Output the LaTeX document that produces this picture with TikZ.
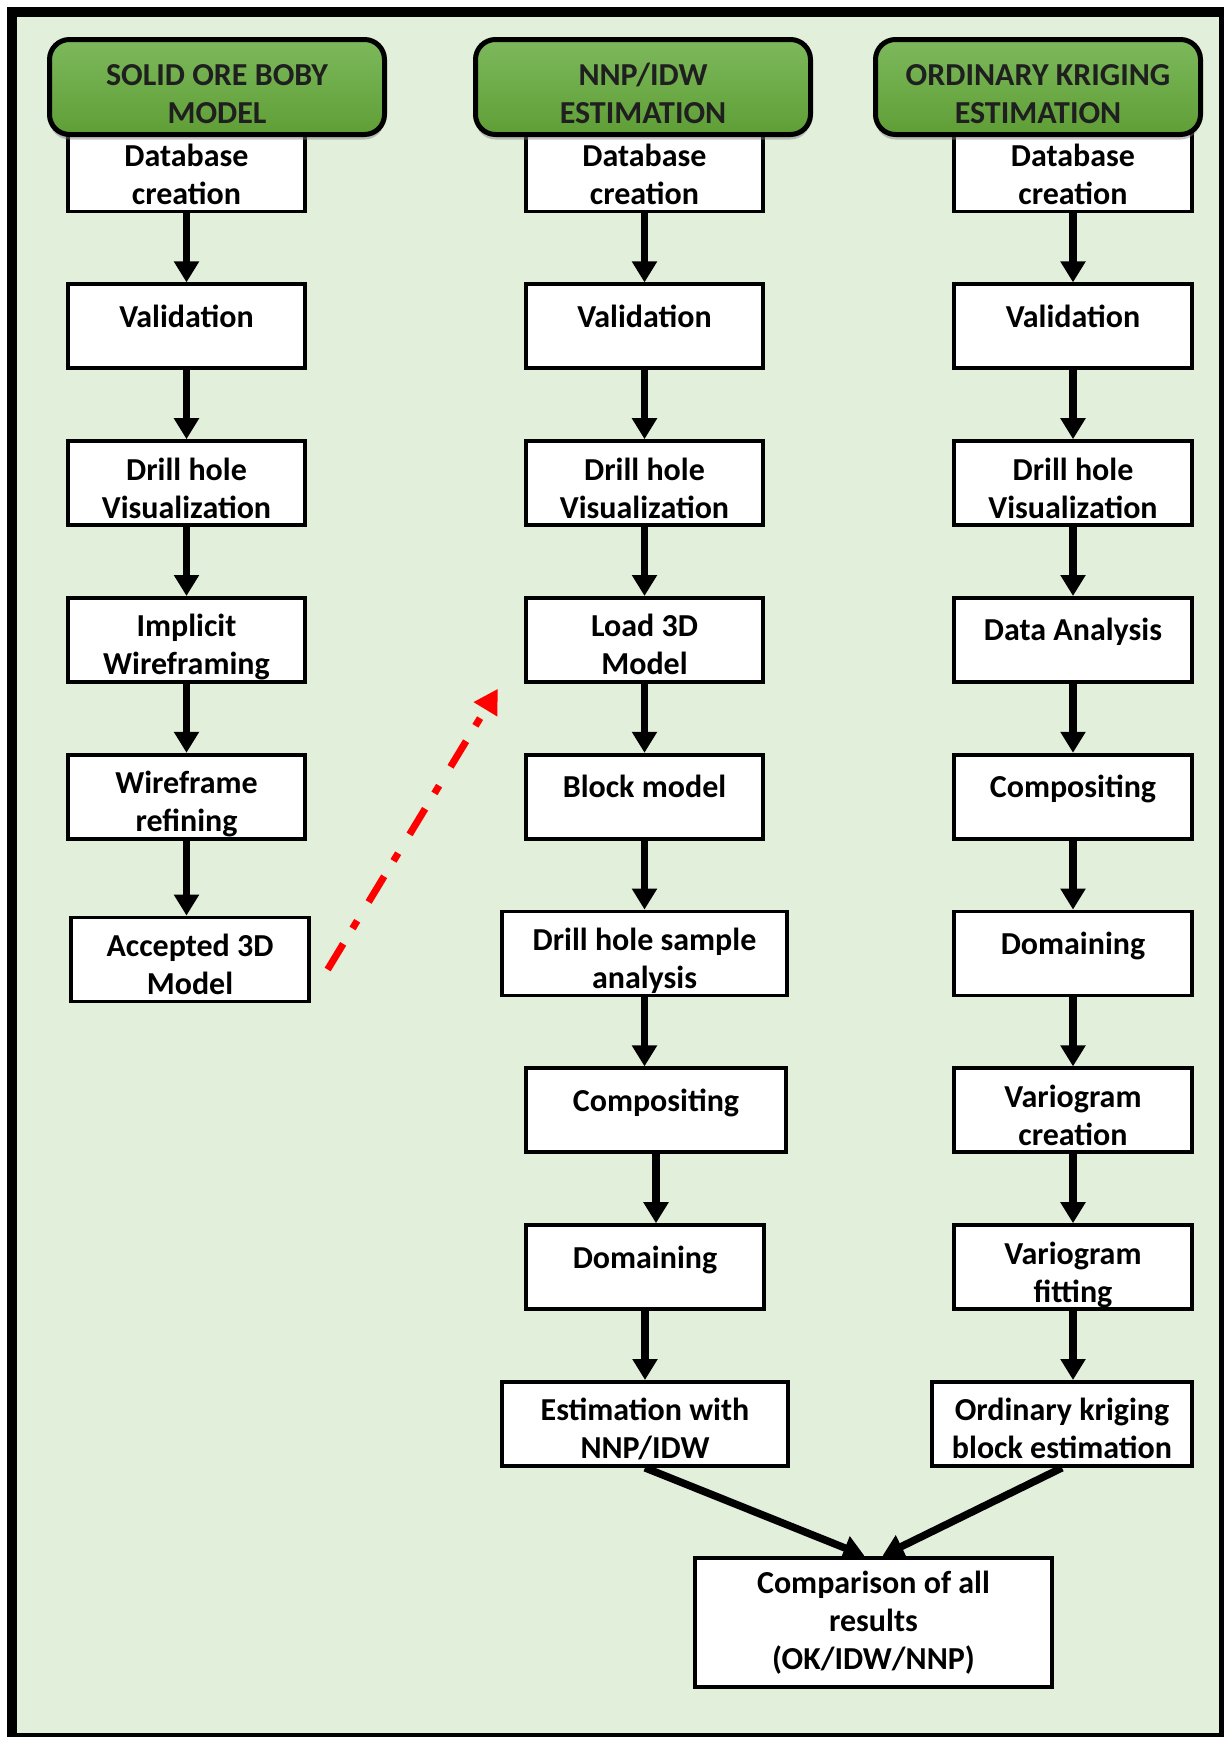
\documentclass[tikz,border=0pt]{standalone}
\usepackage{fontspec}
\setmainfont{Carlito}
\usetikzlibrary{arrows.meta, positioning, calc, shadows}

\definecolor{bggreen}{HTML}{E2EFDA}
\definecolor{hdrtop}{HTML}{7DB95C}
\definecolor{hdrbot}{HTML}{5F9E36}

\begin{document}
\begin{tikzpicture}[
        x=1pt, y=1pt,
        node distance=69pt,
        box/.style={draw, line width=3.8pt, fill=white, minimum width=237.5pt, minimum height=84pt, align=center, inner sep=2pt, font=\fontsize{32}{38}\selectfont\bfseries},
        single/.style={text height=20pt, text depth=18pt},
        double/.style={text height=70pt, text depth=0pt},
        header/.style={draw, line width=5pt, rounded corners=20pt, top color=hdrtop, bottom color=hdrbot, minimum width=335pt, minimum height=95pt, align=center, text=black!88, text height=72pt, text depth=0pt, font=\fontsize{32}{38}\selectfont\bfseries, drop shadow={shadow xshift=0pt, shadow yshift=-5pt, opacity=0.45}},
        arrow/.style={-{Triangle[width=24pt,length=21pt]}, line width=7.5pt},
        redarrow/.style={-{Triangle[width=26pt,length=24pt]}, line width=7pt, red, dash pattern=on 30pt off 18pt on 9pt off 22pt}
    ]
        \useasboundingbox (0,0) rectangle (1230,-1738);
        \fill[black] (7,-7) rectangle (1224,-1737);
        \fill[bggreen] (17,-17) rectangle (1219,-1733);

        % solid ore body model
        \node[box, double] (db1) at (186.5,-169.5) {Database\\creation};
        \node[box, single, below=of db1] (val1) {Validation};
        \node[box, double, below=of val1] (dh1) {Drill hole\\Visualization};
        \node[box, double, below=of dh1] (imp1) {Implicit\\Wireframing};
        \node[box, double, below=of imp1] (wf1) {Wireframe\\refining};
        \node[box, double, below=of wf1, xshift=3.5pt, yshift=-6pt] (acc1) {Accepted 3D\\Model};

        % NNP/IDW estimation
        \node[box, double] (db2) at (644.5,-169.5) {Database\\creation};
        \node[box, single, below=of db2] (val2) {Validation};
        \node[box, double, below=of val2] (dh2) {Drill hole\\Visualization};
        \node[box, double, below=of dh2] (load2) {Load 3D\\Model};
        \node[box, single, below=of load2] (blk2) {Block model};
        \node[box, double, below=of blk2, minimum width=285.5pt] (dhs2) {Drill hole sample\\analysis};
        \node[box, single, below=of dhs2, minimum width=260.5pt, xshift=11.5pt] (comp2) {Compositing};
        \node[box, single, below=of comp2, xshift=-11pt] (dom2) {Domaining};
        \node[box, double, below=of dom2, minimum width=285.5pt] (est2) {Estimation with\\NNP/IDW};

        % ordinary kriging estimation
        \node[box, double] (db3) at (1073,-169.5) {Database\\creation};
        \node[box, single, below=of db3] (val3) {Validation};
        \node[box, double, below=of val3] (dh3) {Drill hole\\Visualization};
        \node[box, single, below=of dh3] (da3) {Data Analysis};
        \node[box, single, below=of da3] (comp3) {Compositing};
        \node[box, single, below=of comp3] (dom3) {Domaining};
        \node[box, double, below=of dom3] (vc3) {Variogram\\creation};
        \node[box, double, below=of vc3] (vf3) {Variogram\\fitting};
        \node[box, double, below=of vf3, minimum width=260.5pt, xshift=-11pt] (okb3) {Ordinary kriging\\block estimation};

        % headers
        \node[header] (hdr1) at (217,-87) {SOLID ORE BOBY\\MODEL};
        \node[header, right=86pt of hdr1] (hdr2) {NNP/IDW\\ESTIMATION};
        \node[header, right=60pt of hdr2, minimum width=325pt] (hdr3) {ORDINARY KRIGING\\ESTIMATION};

        \foreach \a/\b in {db1/val1, val1/dh1, dh1/imp1, imp1/wf1, wf1/acc1,
                db2/val2, val2/dh2, dh2/load2, load2/blk2, blk2/dhs2, dhs2/comp2, comp2/dom2, dom2/est2,
                db3/val3, val3/dh3, dh3/da3, da3/comp3, comp3/dom3, dom3/vc3, vc3/vf3, vf3/okb3}
            \draw[arrow] (\a) -- (\a |- \b.north);

        % model handed over to the estimation
        \coordinate[below left=5pt and 26pt of load2.south west] (redtip);
        \draw[redarrow] ([xshift=17pt,yshift=-10pt]acc1.east) -- (redtip);

        % comparison
        \coordinate (mid) at ($(est2.south)!0.5!(okb3.south)$);
        \node[box, below=88pt of mid, xshift=20pt, minimum width=357pt, minimum height=129pt] (cmpall) {Comparison of all\\results\\(OK/IDW/NNP)};
        \draw[arrow] (est2.south) -- ([xshift=-9pt]cmpall.north);
        \draw[arrow] (okb3.south) -- ([xshift=9pt]cmpall.north);

    \end{tikzpicture}
\end{document}
